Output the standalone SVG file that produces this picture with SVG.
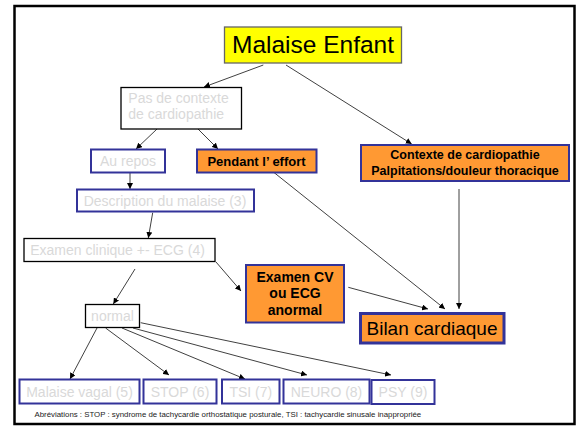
<svg xmlns="http://www.w3.org/2000/svg" width="579" height="426" viewBox="0 0 579 426">
<defs>
<marker id="ah" markerUnits="userSpaceOnUse" markerWidth="6" markerHeight="6" refX="6" refY="3" orient="auto"><path d="M0,0 L6,3 L0,6 z" fill="#000"/></marker>
<style>
.t{font-family:"Liberation Sans",Arial,sans-serif}
.g{fill:#d9d9d9;font-size:14px}
.b{font-weight:bold;fill:#000}
.blue{fill:#fff;stroke:#333399;stroke-width:2}
.or{fill:#ff9933;stroke:#333399;stroke-width:2}
.plain{fill:#fff;stroke:#000;stroke-width:1.3}
#conn path{fill:none;stroke:#000;stroke-width:0.75;marker-end:url(#ah)}
</style>
</defs>
<rect x="0" y="0" width="579" height="426" fill="#fff"/>
<rect x="14.5" y="6" width="560" height="418" fill="#fff" stroke="#000" stroke-width="2.5"/>
<g id="conn">
<path d="M263.3,65 L204,87"/>
<path d="M286,65 L411.7,144"/>
<path d="M157,129 L136,149"/>
<path d="M198,129 L218,149"/>
<path d="M130,173 L130,189"/>
<path d="M152.7,212.7 L148.3,238"/>
<path d="M135,269 L113.3,304"/>
<path d="M216,262 L241,291"/>
<path d="M274,172.5 L445,309"/>
<path d="M459,189 L459,309"/>
<path d="M348.3,287.3 L428,309"/>
<path d="M97,328 L70,379"/>
<path d="M105.6,328 L169,375"/>
<path d="M122,328 L245,379"/>
<path d="M133,328 L307,375"/>
<path d="M140.7,322.7 L391,375"/>
</g>
<g id="malaise-enfant">
<rect x="224.5" y="27" width="177" height="36" fill="#ffff00" stroke="#666" stroke-width="1.3"/>
<text class="t" x="313" y="53.3" text-anchor="middle" font-size="24.5" fill="#000">Malaise Enfant</text>
</g>
<g id="pas-contexte">
<rect x="121" y="87.5" width="120.5" height="41.5" class="plain" stroke-width="1.8"/>
<text class="t g" x="128.3" y="102.7">Pas de contexte</text>
<text class="t g" x="128.3" y="119.3">de cardiopathie</text>
</g>
<g id="au-repos">
<rect x="91" y="149.5" width="74" height="23" class="blue"/>
<text class="t g" x="128" y="165.5" text-anchor="middle">Au repos</text>
</g>
<g id="pendant-effort">
<rect x="197" y="149.5" width="119.5" height="23" class="or"/>
<text class="t b" x="256.5" y="166" text-anchor="middle" font-size="13">Pendant l’ effort</text>
</g>
<g id="contexte-cardio">
<rect x="361" y="145" width="208" height="36" class="or"/>
<text class="t b" x="465" y="159.3" text-anchor="middle" font-size="12.5">Contexte de cardiopathie</text>
<text class="t b" x="465" y="175" text-anchor="middle" font-size="12.5">Palpitations/douleur thoracique</text>
</g>
<g id="description">
<rect x="77" y="189.5" width="177" height="22" class="blue"/>
<text class="t g" x="165" y="205.5" text-anchor="middle">Description du malaise (3)</text>
</g>
<g id="examen-clinique">
<rect x="24" y="238.5" width="191" height="23" class="plain" stroke-width="1"/>
<text class="t g" x="117.5" y="254.5" text-anchor="middle">Examen clinique +- ECG (4)</text>
</g>
<g id="examen-cv">
<rect x="246" y="265" width="98" height="57.5" class="or"/>
<text class="t b" x="295" y="281.7" text-anchor="middle" font-size="14">Examen CV</text>
<text class="t b" x="295" y="298.3" text-anchor="middle" font-size="14">ou ECG</text>
<text class="t b" x="295" y="314.5" text-anchor="middle" font-size="14">anormal</text>
</g>
<g id="bilan">
<rect x="360.5" y="313.5" width="143.5" height="29.5" fill="#ff9933" stroke="#333399" stroke-width="3"/>
<text class="t" x="432" y="334.5" text-anchor="middle" font-size="19" fill="#000">Bilan cardiaque</text>
</g>
<g id="normal">
<rect x="85.5" y="304.5" width="54" height="23" class="plain" stroke="#555"/>
<text class="t g" x="112.5" y="320.5" text-anchor="middle">normal</text>
</g>
<g id="malaise-vagal">
<rect x="19.5" y="379.5" width="120" height="24" class="blue"/>
<text class="t g" x="79.5" y="396.5" text-anchor="middle">Malaise vagal (5)</text>
</g>
<g id="stop">
<rect x="143.5" y="379.5" width="73" height="24" class="blue"/>
<text class="t g" x="180" y="396.5" text-anchor="middle">STOP (6)</text>
</g>
<g id="tsi">
<rect x="222" y="379.5" width="57.5" height="24" class="blue"/>
<text class="t g" x="250.8" y="396.5" text-anchor="middle">TSI (7)</text>
</g>
<g id="neuro">
<rect x="283.5" y="379.5" width="86" height="24" class="blue"/>
<text class="t g" x="326.5" y="396.5" text-anchor="middle">NEURO (8)</text>
</g>
<g id="psy">
<rect x="371.5" y="380" width="63" height="24" class="blue"/>
<text class="t g" x="403" y="397" text-anchor="middle">PSY (9)</text>
</g>
<text class="t" x="34.5" y="417.3" font-size="7.85" fill="#222">Abréviations : STOP : syndrome de tachycardie orthostatique posturale,  TSI : tachycardie sinusale inappropriée</text>
</svg>
